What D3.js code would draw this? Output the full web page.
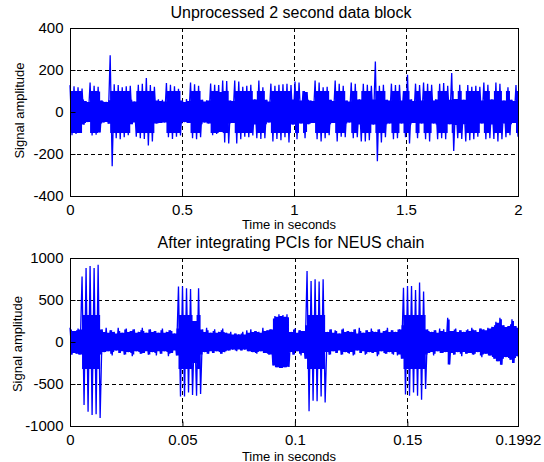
<!DOCTYPE html>
<html><head><meta charset="utf-8">
<script src="https://cdn.jsdelivr.net/npm/d3@7/dist/d3.min.js"></script>
<style>
html,body{margin:0;padding:0;background:#fff;}
svg{display:block;}
text{font-family:"Liberation Sans",Arial,sans-serif;fill:#000;}
</style></head>
<body>
<script>
// ---------- DATA ----------
const title1 = "Unprocessed 2 second data block";
const title2 = "After integrating PCIs for NEUS chain";
const xLabel = "Time in seconds";
const yLabel = "Signal amplitude";

const duration1 = 2;
const duration2 = 0.1992;

const xTicks1 = [0, 0.5, 1, 1.5, 2];
const xTickLabels1 = ["0", "0.5", "1", "1.5", "2"];
const yTicks1 = [-400, -200, 0, 200, 400];
const xTicks2 = [0, 0.05, 0.1, 0.15, 0.1992];
const xTickLabels2 = ["0", "0.05", "0.1", "0.15", "0.1992"];
const yTicks2 = [-1000, -500, 0, 500, 1000];

// sampled signal extremes (alternating peaks), evenly spaced over each block
const signal1 = [
  128,-110,122,-105,118,-100,112,-60,52,-48,
  140,-112,125,-108,120,-98,55,-50,48,-56,
  270,-258,132,-125,128,-130,118,-120,122,-110,
  125,-58,50,-118,130,-125,135,-128,162,-160,
  128,-140,120,-55,60,-52,58,-50,138,-120,
  130,-128,122,-118,110,-112,55,-48,62,-52,
  140,-125,132,-130,125,-120,58,-50,56,-55,
  135,-110,130,-105,128,-95,150,-145,148,-150,
  55,-52,150,-150,145,-130,120,-118,125,-120,
  130,-112,60,-125,150,-128,118,-125,58,-50,
  135,-140,125,-128,130,-135,132,-120,135,-145,
  128,-60,145,-130,140,-55,100,-125,95,-58,
  55,-52,150,-130,140,-140,118,-125,120,-110,
  58,-52,150,-140,135,-118,125,-120,55,-50,
  140,-125,135,-120,60,-140,135,-140,130,-135,
  125,-60,240,-234,125,-145,130,-120,58,-55,
  135,-130,128,-125,130,-55,100,-120,177,-150,
  60,-52,135,-125,128,-55,140,-130,135,-140,
  130,-55,60,-130,135,-125,138,-130,125,-58,
  186,-186,62,-125,130,-128,58,-140,128,-135,
  120,-130,125,-118,120,-55,140,-130,130,-125,
  60,-128,140,-140,135,-130,55,-120,118,-110,
  58,-52,128,-118
];

const signal2 = [
  170,-150,130,-140,160,-150,780,-750,880,-830,
  905,-870,880,-860,920,-905,150,-120,170,-110,
  140,-160,120,-100,170,-130,110,-150,160,-120,
  130,-170,150,-110,120,-140,170,-130,110,-150,
  150,-120,130,-160,110,-140,160,-110,120,-170,
  140,-130,100,-160,660,-650,665,-648,640,-600,
  630,-630,250,-640,640,-620,150,-120,170,-140,
  110,-130,150,-110,120,-140,160,-120,110,-100,
  120,-90,100,-110,90,-100,120,-90,140,-110,
  150,-120,130,-140,120,-110,170,-130,140,-150,
  150,-280,310,-300,330,-310,320,-300,330,-296,
  120,-150,160,-110,140,-160,130,-200,846,-825,
  727,-700,747,-706,720,-650,747,-720,120,-150,
  150,-110,140,-130,100,-150,160,-120,130,-140,
  120,-160,150,-100,170,-130,110,-150,140,-120,
  160,-130,120,-170,150,-110,130,-140,170,-120,
  140,-150,120,-160,150,-200,647,-626,667,-640,
  667,-600,620,-640,707,-686,600,-560,150,-130,
  120,-160,140,-110,160,-130,150,-120,289,-268,
  130,-150,160,-120,140,-170,120,-140,150,-130,
  170,-150,140,-120,160,-180,150,-140,170,-160,
  180,-200,240,-230,289,-270,200,-180,190,-210,
  270,-250,190,-170
];

// ---------- DRAWING ----------
const W = 544, H = 462;
const svg = d3.select("body").append("svg").attr("width", W).attr("height", H);
svg.append("rect").attr("width", W).attr("height", H).attr("fill", "#fff");

const panels = [
  {title: title1, signal: signal1, dur: duration1, xt: xTicks1, xl: xTickLabels1, yt: yTicks1, fillCap: 100,
   left: 70, right: 518, top: 28, bottom: 196, titleY: 17.5, xlabY: 228.5, ylabX: 24, ylabY: 110.5},
  {title: title2, signal: signal2, dur: duration2, xt: xTicks2, xl: xTickLabels2, yt: yTicks2, fillCap: 320,
   left: 70, right: 518, top: 258, bottom: 426, titleY: 248, xlabY: 460.5, ylabX: 21.5, ylabY: 344}
];

panels.forEach(p => {
  const yMax = p.yt[p.yt.length - 1];
  const x = d3.scaleLinear().domain([0, p.dur]).range([p.left, p.right]);
  const y = d3.scaleLinear().domain([-yMax, yMax]).range([p.bottom, p.top]);
  const g = svg.append("g");

  // grid (under data)
  const grid = g.append("g").attr("stroke", "#000").attr("stroke-width", 1).attr("stroke-dasharray", "4,3");
  p.xt.forEach(v => {
    const xx = Math.round(x(v)) + 0.5;
    grid.append("line").attr("x1", xx).attr("x2", xx).attr("y1", p.top).attr("y2", p.bottom);
  });
  p.yt.forEach(v => {
    const yy = Math.round(y(v)) + 0.5;
    grid.append("line").attr("x1", p.left).attr("x2", p.right).attr("y1", yy).attr("y2", yy);
  });

  // signal: dense core (span shared by consecutive extremes) + the sample line itself
  const n = p.signal.length;
  const tOf = i => i * p.dur / (n - 1);
  const core = [];
  for (let i = 0; i < n - 1; i++) {
    const a = Math.max(p.signal[i], p.signal[i + 1]);
    const b = Math.min(p.signal[i], p.signal[i + 1]);
    const m = Math.min(Math.abs(a), Math.abs(b), p.fillCap);
    core.push({t: tOf(i), lo: -m, hi: m});
  }
  core.push({t: tOf(n - 1), lo: core[n - 2].lo, hi: core[n - 2].hi});
  const area = d3.area().curve(d3.curveStepAfter)
    .x(d => x(d.t)).y0(d => y(d.lo)).y1(d => y(d.hi));
  g.append("path").datum(core).attr("d", area).attr("fill", "#0000ff");

  const line = d3.line().x((d, i) => x(tOf(i))).y(d => y(d));
  g.append("path").datum(p.signal).attr("d", line)
    .attr("fill", "none").attr("stroke", "#0000ff").attr("stroke-width", 1.3)
    .attr("stroke-linejoin", "bevel");

  // axes
  const fmtX = d => p.xl[p.xt.indexOf(d)];
  const ax = g.append("g").attr("transform", `translate(0,${p.bottom + 0.5})`)
    .call(d3.axisBottom(x).tickValues(p.xt).tickFormat(fmtX).tickSize(-5).tickPadding(7.5));
  const ay = g.append("g").attr("transform", `translate(${p.left + 0.5},0)`)
    .call(d3.axisLeft(y).tickValues(p.yt).tickFormat(d3.format("d")).tickSize(-5).tickPadding(7));
  [ax, ay].forEach(a => {
    a.select(".domain").remove();
    a.selectAll("text").attr("font-size", 15).attr("font-family", '"Liberation Sans",Arial,sans-serif').attr("fill", "#000");
    a.selectAll("line").attr("stroke", "#000");
  });
  ay.selectAll("text").text(d => d < 0 ? "-" + Math.abs(d) : String(d));

  // box
  g.append("rect").attr("x", p.left + 0.5).attr("y", p.top + 0.5)
    .attr("width", p.right - p.left).attr("height", p.bottom - p.top)
    .attr("fill", "none").attr("stroke", "#000").attr("stroke-width", 1);

  // title & labels
  g.append("text").attr("x", (p.left + p.right) / 2 - 3).attr("y", p.titleY)
    .attr("text-anchor", "middle").attr("font-size", 16).text(p.title);
  g.append("text").attr("x", (p.left + p.right) / 2 - 5).attr("y", p.xlabY)
    .attr("text-anchor", "middle").attr("font-size", 13).text(xLabel);
  g.append("text").attr("transform", `translate(${p.ylabX},${p.ylabY}) rotate(-90)`)
    .attr("text-anchor", "middle").attr("font-size", 13).text(yLabel);
});
</script>
</body></html>
